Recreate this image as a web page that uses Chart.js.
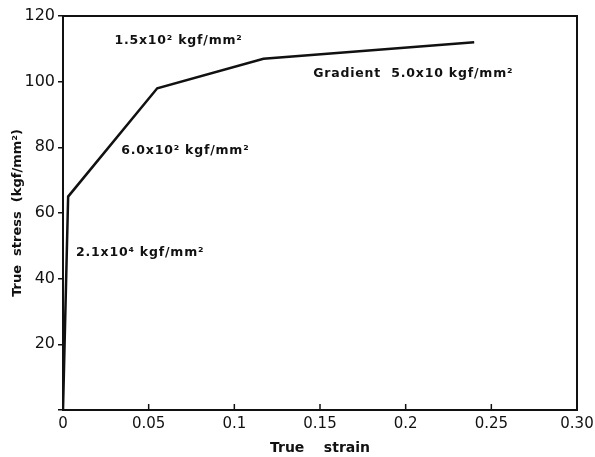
<!DOCTYPE html>
<html>
<head>
<meta charset="utf-8">
<script src="https://cdn.jsdelivr.net/npm/chart.js@4"></script>
<style>
  html, body { margin: 0; padding: 0; background: #fff; }
  #wrap { width: 595px; height: 457px; }
</style>
</head>
<body>
<div id="wrap"><canvas id="grafico"></canvas></div>
<script>
// curva tension-deformacion verdadera
const deformacion = [0, 0.003, 0.055, 0.117, 0.24];
const tension     = [0, 65, 98, 107, 112];

const ticksX = ["0", "0.05", "0.1", "0.15", "0.2", "0.25", "0.30"];
const ticksY = ["", "20", "40", "60", "80", "100", "120"];

// textos de pendiente
const notas = [
    { texto: "1.5x10² kgf/mm²", x: 0.030, y: 112.5 },
    { texto: "6.0x10² kgf/mm²", x: 0.034, y: 79 },
    { texto: "Gradient  5.0x10 kgf/mm²", x: 0.146, y: 102.5 },
    { texto: "2.1x10⁴ kgf/mm²", x: 0.0076, y: 48 }
];

const fuente = "'DejaVu Sans', sans-serif";

// marco, marcas interiores del eje x y textos
const pluginMarco = {
    id: "marco",
    afterDraw(chart) {
        const ctx = chart.ctx;
        const a = chart.chartArea;
        const sx = chart.scales.x, sy = chart.scales.y;
        ctx.save();
        ctx.strokeStyle = "#111";
        ctx.lineWidth = 2;
        ctx.strokeRect(a.left, a.top, a.right - a.left, a.bottom - a.top);

        ctx.lineWidth = 1.5;
        for (let i = 1; i < ticksX.length - 1; i++) {
            const px = sx.getPixelForValue(i * 0.05);
            ctx.beginPath();
            ctx.moveTo(px, a.bottom);
            ctx.lineTo(px, a.bottom - 6);
            ctx.stroke();
        }

        ctx.fillStyle = "#111";
        ctx.font = "bold 12.5px " + fuente;
        ctx.letterSpacing = "0.8px";
        ctx.textBaseline = "middle";
        ctx.textAlign = "left";
        notas.forEach(n => {
            ctx.fillText(n.texto, sx.getPixelForValue(n.x), sy.getPixelForValue(n.y));
        });
        ctx.restore();
    }
};

const canvas = document.getElementById("grafico").getContext("2d");
new Chart(canvas, {
    type: "scatter",
    data: {
        datasets: [{
            data: deformacion.map((d, i) => ({ x: d, y: tension[i] })),
            showLine: true,
            borderColor: "#111",
            borderWidth: 2.5,
            pointRadius: 0,
            tension: 0
        }]
    },
    options: {
        responsive: true,
        maintainAspectRatio: false,
        animation: false,
        layout: { padding: { left: 0, top: 16, right: 0, bottom: 0 } },
        plugins: { legend: { display: false }, tooltip: { enabled: false } },
        scales: {
            x: {
                type: "linear",
                min: 0, max: 0.3,
                afterFit: s => { s.height = 47; s.paddingRight = 18; },
                border: { display: false },
                grid: { display: false, drawTicks: false },
                ticks: {
                    stepSize: 0.05,
                    color: "#111",
                    padding: 5,
                    maxRotation: 0,
                    font: { family: fuente, size: 15 },
                    callback: (v, i) => ticksX[i]
                },
                title: {
                    display: true,
                    text: "True    strain",
                    color: "#111",
                    font: { family: fuente, size: 14, weight: "bold" },
                    padding: { top: 0, bottom: 0 }
                }
            },
            y: {
                type: "linear",
                min: 0, max: 120,
                afterFit: s => { s.width = 63; },
                border: { display: false },
                grid: { drawOnChartArea: false, drawTicks: true, tickLength: 5, color: "#111", lineWidth: 1.5 },
                ticks: {
                    stepSize: 20,
                    color: "#111",
                    padding: 3,
                    font: { family: fuente, size: 16 },
                    callback: (v, i) => ticksY[i]
                },
                title: {
                    display: true,
                    text: "True  stress  (kgf/mm²)",
                    color: "#111",
                    font: { family: fuente, size: 13, weight: "bold" },
                    padding: { top: 10, bottom: 0 }
                }
            }
        }
    },
    plugins: [pluginMarco]
});
</script>
</body>
</html>
